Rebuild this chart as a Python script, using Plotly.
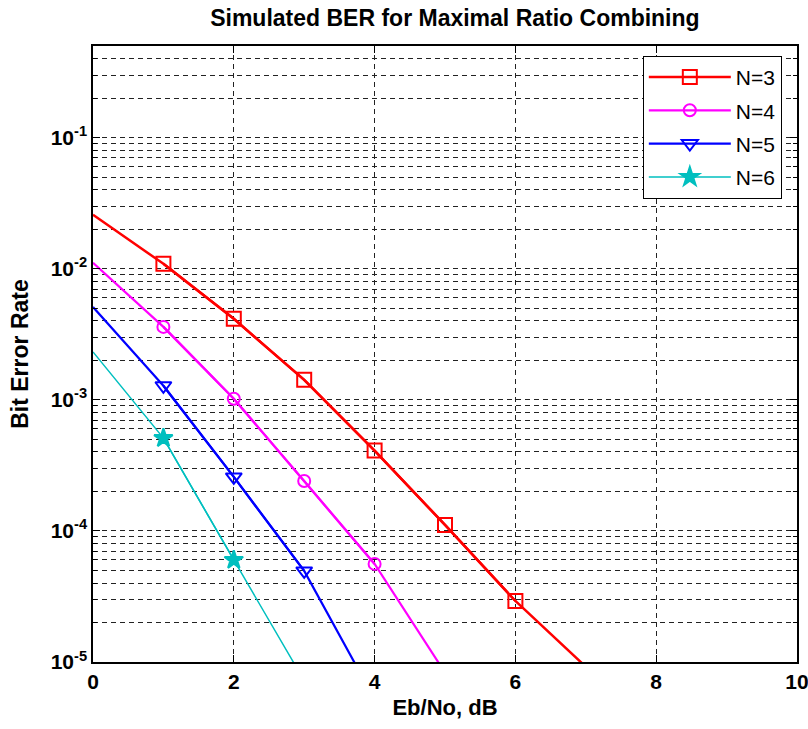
import plotly.graph_objects as go

# Data
snr_db = [0, 1, 2, 3, 4, 5, 6, 7]
ber_n3 = [0.0258, 0.0109, 0.00415, 0.00142, 0.00041, 0.000111, 2.92e-5, 9.2e-6]
ber_n4 = [0.0111, 0.0036, 0.00102, 0.00024, 5.6e-5, 8.3e-6]
ber_n5 = [0.0051, 0.00128, 0.000258, 4.95e-5, 5.2e-6]
ber_n6 = [0.00232, 0.00051, 6.0e-5, 7.2e-6]
labels = ["N=3", "N=4", "N=5", "N=6"]
marker_last = [6, 4, 3, 2]  # last integer SNR carrying a marker

series = [ber_n3, ber_n4, ber_n5, ber_n6]
colors = ["#ff0000", "#ff00ff", "#0000ff", "#00bfbf"]
symbols = ["square-open", "circle-open", "triangle-down-open", "star"]
msizes = [14, 12, 14, 14]
lwidths = [2.5, 2.2, 2.2, 1.5]

fig = go.Figure()
for ys, lab, c, s, ms, lw, ml in zip(series, labels, colors, symbols, msizes, lwidths, marker_last):
    xs = snr_db[:len(ys)]
    fig.add_trace(go.Scatter(x=xs, y=ys, mode="lines", line=dict(color=c, width=lw),
                             showlegend=False, hoverinfo="skip", legendgroup=lab))
    fig.add_trace(go.Scatter(x=xs[1:ml + 1], y=ys[1:ml + 1], mode="lines+markers", name=lab,
                             legendgroup=lab,
                             line=dict(color=c, width=lw),
                             marker=dict(symbol=s, size=ms, color=c,
                                         line=dict(color=c, width=2))))

major = [1e-5, 1e-4, 1e-3, 1e-2, 1e-1]
major_text = ["<b>10<sup>-5</sup></b>", "<b>10<sup>-4</sup></b>", "<b>10<sup>-3</sup></b>",
              "<b>10<sup>-2</sup></b>", "<b>10<sup>-1</sup></b>"]
minor_vals = [m * 10.0 ** e for e in range(-5, 0) for m in range(2, 10)]
minor_vals = [v for v in minor_vals if v <= 0.5]
xticks = [0, 2, 4, 6, 8, 10]

font_main = "Liberation Sans, Arial, sans-serif"
grid_dash = "5px,4px"
grid_col = "#222222"

fig.update_layout(
    width=808, height=729,
    margin=dict(l=93, r=11, t=46, b=67, autoexpand=False),
    paper_bgcolor="white", plot_bgcolor="white",
    title=dict(text="<b>Simulated BER for Maximal Ratio Combining</b>", x=0.563, xanchor="center",
               y=0.975, yanchor="middle", font=dict(family=font_main, size=23, color="black")),
    font=dict(family=font_main, color="black"),
    xaxis=dict(range=[0, 10], tickvals=xticks,
               ticktext=["<b>%d</b>" % v for v in xticks], ticklabeloverflow="allow",
               tickfont=dict(size=21), showgrid=True, gridcolor=grid_col, griddash=grid_dash, gridwidth=1,
               showline=True, linecolor="black", linewidth=1.5, mirror="ticks",
               ticks="inside", ticklen=7, tickcolor="black", zeroline=False, automargin=False,
               title=dict(text="<b>Eb/No, dB</b>", font=dict(size=22), standoff=8)),
    yaxis=dict(type="log", range=[-5, -0.301], tickvals=major, ticktext=major_text,
               ticklabeloverflow="allow",
               tickfont=dict(size=21), showgrid=True, gridcolor=grid_col, griddash=grid_dash, gridwidth=1,
               showline=True, linecolor="black", linewidth=1.5, mirror="ticks",
               ticks="inside", ticklen=7, tickcolor="black", zeroline=False, automargin=False,
               minor=dict(tickvals=minor_vals, showgrid=True, gridcolor=grid_col, griddash=grid_dash,
                          gridwidth=1, ticks="inside", ticklen=4, tickcolor="black"),
               title=dict(text="<b>Bit Error Rate</b>", font=dict(size=23), standoff=16)),
    legend=dict(x=0.781, y=0.984, xanchor="left", yanchor="top", bgcolor="white",
                bordercolor="black", borderwidth=1, font=dict(size=21, family=font_main),
                tracegroupgap=3, itemwidth=82),
)

fig.write_html("out.html")
